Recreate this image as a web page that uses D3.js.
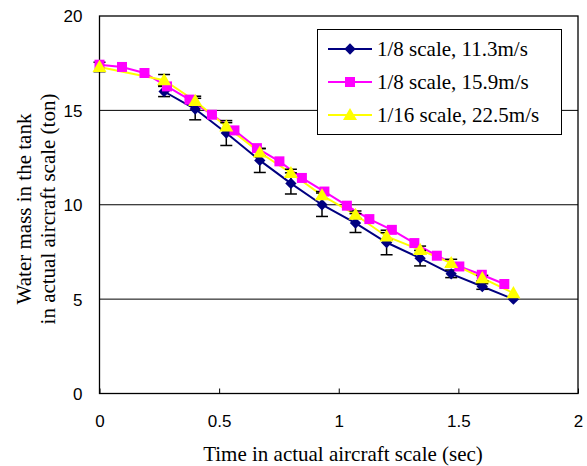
<!DOCTYPE html>
<html>
<head>
<meta charset="utf-8">
<script src="https://cdn.jsdelivr.net/npm/d3@7.9.0/dist/d3.min.js"></script>
<style>
  body { margin: 0; background: #fff; }
  svg { display: block; }
  .tick text { font-family: "Liberation Sans", Arial, sans-serif; font-size: 17px; fill: #000; }
  .title { font-family: "Liberation Serif", "Times New Roman", serif; font-size: 21px; fill: #000; }
</style>
</head>
<body>
<svg id="chart" width="587" height="466"></svg>
<script>
// 1/8 scale, 11.3 m/s
const blueX = [0.27, 0.40, 0.53, 0.67, 0.80, 0.93, 1.07, 1.20, 1.34, 1.47, 1.60, 1.73];
const blueY = [16.0, 15.07, 13.8, 12.35, 11.13, 10.0, 9.03, 8.0, 7.17, 6.34, 5.67, 5.0];
const blueErr = [0.27, 0.57, 0.66, 0.64, 0.56, 0.62, 0.5, 0.65, 0.41, 0.2, 0.15, 0];

// 1/8 scale, 15.9 m/s
const magX = [0, 0.094, 0.188, 0.282, 0.376, 0.47, 0.564, 0.658, 0.752, 0.846, 0.94,
  1.034, 1.128, 1.222, 1.316, 1.41, 1.504, 1.598, 1.692];
const magY = [17.42, 17.3, 16.98, 16.27, 15.57, 14.77, 13.94, 13.0, 12.3, 11.42, 10.7,
  9.95, 9.24, 8.67, 7.97, 7.3, 6.73, 6.29, 5.8];

// 1/16 scale, 22.5 m/s
const yelX = [0, 0.27, 0.40, 0.53, 0.67, 0.80, 0.93, 1.07, 1.20, 1.34, 1.47, 1.60, 1.73];
const yelY = [17.3, 16.6, 15.5, 14.15, 12.77, 11.68, 10.5, 9.47, 8.32, 7.61, 6.91, 6.11, 5.32];
const yelErr = [0.25, 0.3, 0.25, 0.2, 0.2, 0.2, 0.2, 0.2, 0.2, 0.2, 0.2, 0.15, 0];

const xTicks = [0, 0.5, 1, 1.5, 2];
const yTicks = [0, 5, 10, 15, 20];
const seriesNames = ["1/8 scale, 11.3m/s", "1/8 scale, 15.9m/s", "1/16 scale, 22.5m/s"];
const colors = ["#000080", "#ff00ff", "#ffff00"];
// diamond = square turned by 45 degrees
const shapes = [d3.symbolSquare, d3.symbolSquare, d3.symbolTriangle];
const shapeSizes = [64, 100, 85];
const shapeRot = [45, 0, 0];

const svg = d3.select('#chart');
const x = d3.scaleLinear().domain([0, 2]).range([99.5, 578]);
const y = d3.scaleLinear().domain([0, 20]).range([393.5, 16]);

// gridlines
svg.append('g')
  .selectAll('line')
  .data(yTicks.filter(t => t > 0 && t < 20))
  .join('line')
  .attr('x1', x(0)).attr('x2', x(2))
  .attr('y1', d => y(d)).attr('y2', d => y(d))
  .attr('stroke', '#000').attr('stroke-width', 1);

// plot frame
svg.append('rect')
  .attr('x', x(0)).attr('y', y(20))
  .attr('width', x(2) - x(0)).attr('height', y(0) - y(20))
  .attr('fill', 'none').attr('stroke', '#000').attr('stroke-width', 1.3);

// x axis, ticks pointing inward
const xAxis = svg.append('g')
  .attr('transform', `translate(0,${y(0)})`)
  .call(d3.axisBottom(x).tickValues(xTicks).tickFormat(d3.format('')).tickSize(-5).tickPadding(21));
xAxis.select('.domain').remove();
xAxis.selectAll('.tick line').attr('stroke', '#000');

const yAxis = svg.append('g')
  .attr('transform', `translate(${x(0)},0)`)
  .call(d3.axisLeft(y).tickValues(yTicks).tickSize(0).tickPadding(17));
yAxis.select('.domain').remove();
yAxis.selectAll('.tick text').attr('dy', '0.35em');

const series = [
  { xs: blueX, ys: blueY, err: blueErr },
  { xs: magX, ys: magY, err: null },
  { xs: yelX, ys: yelY, err: yelErr }
];

const line = d3.line().x(d => x(d[0])).y(d => y(d[1]));

series.forEach((s, i) => {
  const pts = s.xs.map((v, j) => [v, s.ys[j]]);
  svg.append('path')
    .datum(pts)
    .attr('d', line)
    .attr('fill', 'none')
    .attr('stroke', colors[i])
    .attr('stroke-width', 2);
});

// error bars
series.forEach(s => {
  if (!s.err) return;
  const data = s.xs.map((v, j) => ({ x: v, y: s.ys[j], e: s.err[j] })).filter(d => d.e > 0);
  const g = svg.append('g').attr('stroke', '#000').attr('stroke-width', 1.5);
  g.selectAll('.v').data(data).join('line')
    .attr('x1', d => x(d.x)).attr('x2', d => x(d.x))
    .attr('y1', d => y(d.y - d.e)).attr('y2', d => y(d.y + d.e));
  g.selectAll('.lo').data(data).join('line')
    .attr('x1', d => x(d.x) - 6).attr('x2', d => x(d.x) + 6)
    .attr('y1', d => y(d.y - d.e)).attr('y2', d => y(d.y - d.e));
  g.selectAll('.hi').data(data).join('line')
    .attr('x1', d => x(d.x) - 6).attr('x2', d => x(d.x) + 6)
    .attr('y1', d => y(d.y + d.e)).attr('y2', d => y(d.y + d.e));
});

// markers
series.forEach((s, i) => {
  const sym = d3.symbol().type(shapes[i]).size(shapeSizes[i]);
  svg.append('g')
    .selectAll('path')
    .data(s.xs.map((v, j) => [v, s.ys[j]]))
    .join('path')
    .attr('d', sym)
    .attr('transform', d => `translate(${x(d[0])},${y(d[1]) + (i === 2 ? 1 : 0)}) rotate(${shapeRot[i]})`)
    .attr('fill', colors[i]);
});

// legend
const lg = svg.append('g');
lg.append('rect')
  .attr('x', 317.5).attr('y', 29.5).attr('width', 244).attr('height', 105)
  .attr('fill', '#fff').attr('stroke', '#000').attr('stroke-width', 1);
seriesNames.forEach((name, i) => {
  const ly = 49 + i * 33;
  lg.append('line')
    .attr('x1', 328).attr('x2', 372).attr('y1', ly).attr('y2', ly)
    .attr('stroke', colors[i]).attr('stroke-width', 2);
  lg.append('path')
    .attr('d', d3.symbol().type(shapes[i]).size(shapeSizes[i])())
    .attr('transform', `translate(350,${ly + (i === 2 ? 1 : 0)}) rotate(${shapeRot[i]})`)
    .attr('fill', colors[i]);
  lg.append('text')
    .attr('class', 'title')
    .attr('x', 377).attr('y', ly).attr('dy', '0.35em')
    .text(name);
});

// axis titles
svg.append('text')
  .attr('class', 'title')
  .attr('x', 343).attr('y', 461)
  .attr('text-anchor', 'middle')
  .text('Time in actual aircraft scale (sec)');

const yt = svg.append('text')
  .attr('class', 'title')
  .attr('transform', 'translate(0,209) rotate(-90)')
  .attr('text-anchor', 'middle');
yt.append('tspan').attr('x', 0).attr('y', 31).text('Water mass in the tank');
yt.append('tspan').attr('x', 0).attr('y', 55).text('in actual aircraft scale (ton)');
</script>
</body>
</html>
